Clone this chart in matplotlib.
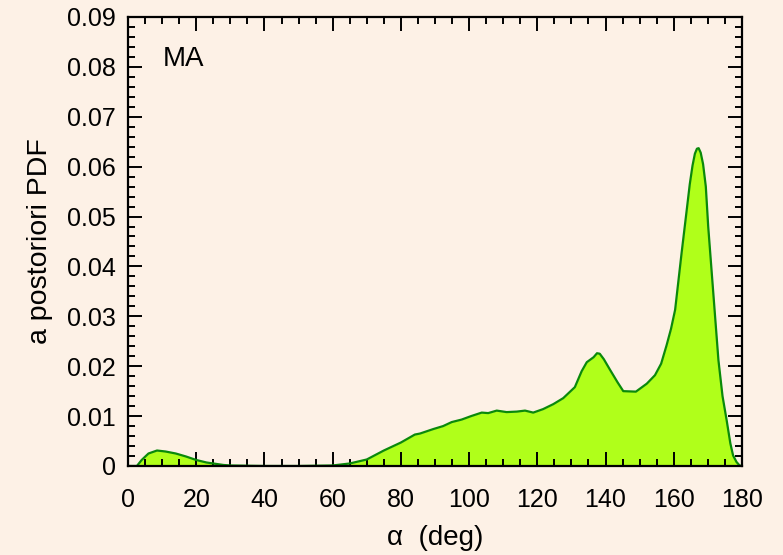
import matplotlib
matplotlib.use("Agg")
import matplotlib.pyplot as plt
from matplotlib.ticker import MultipleLocator, FuncFormatter

alpha_deg = [0, 2.6, 4, 6, 8.5, 11, 14, 17, 20, 23, 25, 28, 30, 40, 50, 60, 65, 70, 75, 80,
             84.1, 85.6, 89.5, 92.4, 94.9, 97.8, 100.6, 103.7, 105.6, 108.1, 111, 114,
             116.4, 118.8, 121.7, 124.7, 127.6, 131, 133, 134.5, 136.5, 137.5, 138.3, 139.5,
             141.3, 143.5, 145.2, 148.9, 152.1, 154.5, 156.3, 157.9, 159.2, 160.4, 162.3,
             163.8, 164.7, 165.5, 166.2, 166.8, 167.3, 167.9, 168.6, 169.4, 170.1, 171.6,
             173.1, 174.3, 175.5, 176.6, 177.4, 178.4, 179.3, 180]
pdf = [0, 0.0000, 0.0012, 0.0025, 0.0031, 0.0029, 0.0025, 0.0019, 0.0012, 0.0007, 0.0005,
       0.0002, 0.0001, 0.0000, 0.0000, 0.0001, 0.0005, 0.0013, 0.0031, 0.0047,
       0.0063, 0.0065, 0.0074, 0.0080, 0.0088, 0.0093, 0.0100, 0.0107, 0.0106,
       0.0111, 0.0108, 0.0109, 0.0111, 0.0107, 0.0114, 0.0124, 0.0136, 0.0158,
       0.0190, 0.0208, 0.0218, 0.0226, 0.0225, 0.0214,
       0.0193, 0.0168, 0.0150, 0.0149, 0.0165, 0.0182, 0.0205, 0.0242, 0.0275, 0.0313, 0.0427,
       0.0513, 0.0565, 0.0602, 0.0626, 0.0636, 0.0637, 0.0628, 0.0605, 0.0560, 0.0480, 0.0346,
       0.0212, 0.0140, 0.0092, 0.0045, 0.0021, 0.0008, 0.0001, 0.0]

bg = "#FDF1E6"
plt.rcParams['font.family'] = ['Liberation Sans', 'DejaVu Sans']

fig = plt.figure(figsize=(7.83, 5.55), dpi=100, facecolor=bg)
ax = fig.add_axes([0.1635, 0.1604, 0.7841, 0.809])
ax.set_facecolor(bg)

ax.fill_between(alpha_deg, pdf, 0, color="#B0FF1A", linewidth=0)
ax.plot(alpha_deg, pdf, color="#0A8A0A", linewidth=1.6)

ax.set_xlim(0, 180)
ax.set_ylim(0, 0.09)
ax.xaxis.set_major_locator(MultipleLocator(20))
ax.xaxis.set_minor_locator(MultipleLocator(5))
ax.yaxis.set_major_locator(MultipleLocator(0.01))
ax.yaxis.set_minor_locator(MultipleLocator(0.002))
ax.yaxis.set_major_formatter(FuncFormatter(lambda v, p: "0" if abs(v) < 1e-9 else f"{v:.2f}"))

ax.tick_params(which='both', direction='in', top=True, right=True, labelsize=18, colors='black', width=1.4)
ax.tick_params(which='major', length=10)
ax.tick_params(axis='x', which='major', pad=16)
ax.tick_params(axis='y', which='major', pad=9)
ax.tick_params(which='minor', length=5)
for s in ax.spines.values():
    s.set_linewidth(1.6)

ax.set_xlabel("α  (deg)", fontsize=20, labelpad=9)
ax.set_ylabel("a postoriori PDF", fontsize=20.5, labelpad=10)
ax.text(0.057, 0.89, "MA", transform=ax.transAxes, fontsize=20)

fig.savefig("out.png", dpi=100, facecolor=bg)
